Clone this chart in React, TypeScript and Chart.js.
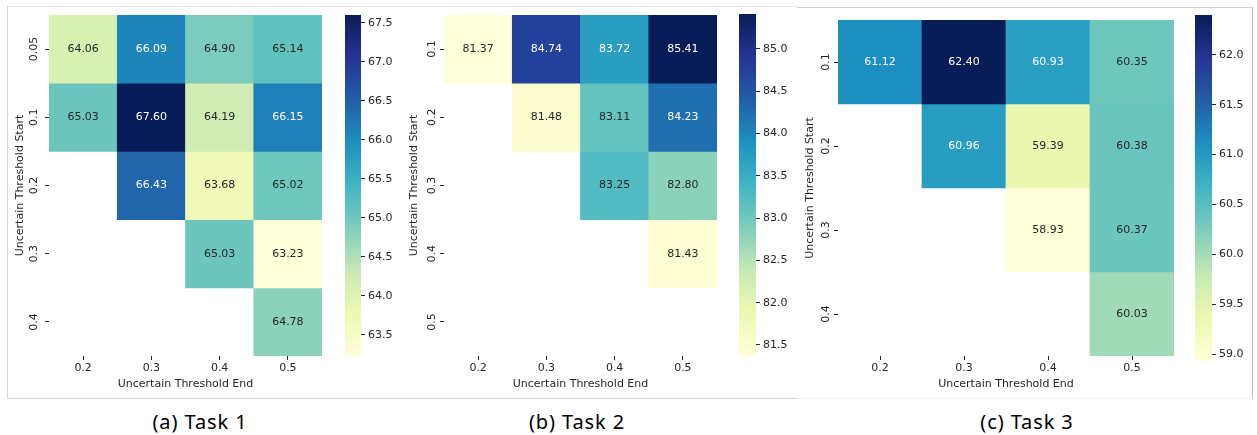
import React, { useEffect, useRef } from "react";
import { Chart, registerables } from "chart.js";
Chart.register(...registerables);

Chart.defaults.font.family = "'DejaVu Sans', sans-serif";
Chart.defaults.font.size = 11;
Chart.defaults.color = "#262626";

// ---------- data ----------
const endThresholds = ["0.2", "0.3", "0.4", "0.5"];

const task1Starts = ["0.05", "0.1", "0.2", "0.3", "0.4"];
const task1Values: (number | null)[][] = [
  [64.06, 66.09, 64.9, 65.14],
  [65.03, 67.6, 64.19, 66.15],
  [null, 66.43, 63.68, 65.02],
  [null, null, 65.03, 63.23],
  [null, null, null, 64.78],
];
const task1CbTicks = [63.5, 64.0, 64.5, 65.0, 65.5, 66.0, 66.5, 67.0, 67.5];

const task2Starts = ["0.1", "0.2", "0.3", "0.4", "0.5"];
const task2Values: (number | null)[][] = [
  [81.37, 84.74, 83.72, 85.41],
  [null, 81.48, 83.11, 84.23],
  [null, null, 83.25, 82.8],
  [null, null, null, 81.43],
  [null, null, null, null],
];
const task2CbTicks = [81.5, 82.0, 82.5, 83.0, 83.5, 84.0, 84.5, 85.0];

const task3Starts = ["0.1", "0.2", "0.3", "0.4"];
const task3Values: (number | null)[][] = [
  [61.12, 62.4, 60.93, 60.35],
  [null, 60.96, 59.39, 60.38],
  [null, null, 58.93, 60.37],
  [null, null, null, 60.03],
];
const task3CbTicks = [59.0, 59.5, 60.0, 60.5, 61.0, 61.5, 62.0];

const captions = ["(a) Task 1", "(b) Task 2", "(c) Task 3"];

// ---------- colormap (YlGnBu) ----------
const YLGNBU = [
  [255, 255, 217],
  [237, 248, 177],
  [199, 233, 180],
  [127, 205, 187],
  [65, 182, 196],
  [29, 145, 192],
  [34, 94, 168],
  [37, 52, 148],
  [8, 29, 88],
];
function cmap(t: number): number[] {
  const tt = Math.max(0, Math.min(1, t)) * (YLGNBU.length - 1);
  const i = Math.min(YLGNBU.length - 2, Math.floor(tt));
  const f = tt - i;
  const a = YLGNBU[i];
  const b = YLGNBU[i + 1];
  return [0, 1, 2].map((k) => Math.round(a[k] + (b[k] - a[k]) * f));
}
const rgb = (c: number[]) => `rgb(${c[0]},${c[1]},${c[2]})`;
function relLum(c: number[]) {
  const f = (x: number) => {
    x /= 255;
    return x <= 0.03928 ? x / 12.92 : Math.pow((x + 0.055) / 1.055, 2.4);
  };
  return 0.2126 * f(c[0]) + 0.7152 * f(c[1]) + 0.0722 * f(c[2]);
}

const TXT = "#262626";
const H = 400;
const AXW = 49;
const LH = 11 * 1.2;

type Geo = {
  hl: number; hr: number; ht: number; hb: number; ylx: number;
  cl: number; cr: number; ct: number; cbot: number;
};

function Panel({ geo, starts, values, cbTicks }: { geo: Geo; starts: string[]; values: (number | null)[][]; cbTicks: number[] }) {
  const heatRef = useRef<HTMLCanvasElement>(null);
  const cbRef = useRef<HTMLCanvasElement>(null);
  const heatLeft = geo.hl - AXW;
  const heatW = geo.hr - heatLeft + 2;
  const cbW = 64;
  const barW = geo.cr - geo.cl;

  useEffect(() => {
    const flat = values.flat().filter((v) => v != null) as number[];
    const vmin = Math.min(...flat);
    const vmax = Math.max(...flat);
    const colorOf = (v: number) => cmap((v - vmin) / (vmax - vmin));

    const annotPlugin = {
      id: "annot",
      afterDatasetsDraw(chart: any) {
        const ctx = chart.ctx;
        ctx.save();
        ctx.font = "11px 'DejaVu Sans'";
        ctx.textAlign = "center";
        ctx.textBaseline = "middle";
        chart.data.datasets.forEach((_ds: any, di: number) => {
          const meta = chart.getDatasetMeta(di);
          meta.data.forEach((el: any, i: number) => {
            const v = values[di][i];
            if (v == null) return;
            const c = colorOf(v);
            ctx.fillStyle = relLum(c) > 0.408 ? TXT : "#ffffff";
            ctx.fillText(v.toFixed(2), el.x, (el.y + el.base) / 2);
          });
        });
        ctx.restore();
      },
    };

    const heat = new Chart(heatRef.current as HTMLCanvasElement, {
      type: "bar",
      data: {
        labels: endThresholds,
        datasets: starts.map((s, ri) => ({
          label: s,
          data: values[ri].map((v) => (v == null ? null : [ri - 0.5, ri + 0.5])) as any,
          backgroundColor: values[ri].map((v) => (v == null ? "rgba(0,0,0,0)" : rgb(colorOf(v)))),
          borderWidth: 0,
          grouped: false,
          barPercentage: 1,
          categoryPercentage: 1,
        })),
      },
      options: {
        responsive: false,
        maintainAspectRatio: false,
        animation: false,
        layout: { padding: { top: geo.ht, left: 0, right: 2, bottom: 0 } },
        plugins: { legend: { display: false }, tooltip: { enabled: false } },
        scales: {
          x: {
            type: "category",
            offset: true,
            afterFit: (s: any) => { s.height = H - geo.hb; },
            ticks: { minRotation: 0, maxRotation: 0, padding: 2, color: TXT, font: { size: 11 } },
            grid: { drawOnChartArea: false, offset: false, tickLength: 4, color: TXT },
            border: { display: false },
            title: {
              display: true, text: "Uncertain Threshold End", color: TXT, font: { size: 11 },
              padding: { top: 0, bottom: H - 384 - LH / 2 },
            },
          },
          y: {
            type: "linear",
            min: -0.5,
            max: starts.length - 0.5,
            reverse: true,
            afterBuildTicks: (s: any) => { s.ticks = starts.map((_x, i) => ({ value: i })); },
            afterFit: (s: any) => { s.width = AXW; },
            ticks: {
              autoSkip: false, minRotation: 90, maxRotation: 90, crossAlign: "center", padding: -1,
              color: TXT, font: { size: 11 },
              callback: (v: any) => starts[Math.round(v)] ?? "",
            },
            grid: { drawOnChartArea: false, tickLength: 4, color: TXT },
            border: { display: false },
            title: {
              display: true, text: "Uncertain Threshold Start", color: TXT, font: { size: 11 },
              padding: { top: geo.ylx - heatLeft - LH / 2, bottom: 0 },
            },
          },
        },
      } as any,
      plugins: [annotPlugin],
    });

    const gradPlugin = {
      id: "grad",
      beforeDatasetsDraw(chart: any) {
        const { ctx, chartArea } = chart;
        const ys = chart.scales.y;
        const yTop = ys.getPixelForValue(vmax);
        const yBot = ys.getPixelForValue(vmin);
        const g = ctx.createLinearGradient(0, yBot, 0, yTop);
        YLGNBU.forEach((c, i) => g.addColorStop(i / (YLGNBU.length - 1), rgb(c)));
        ctx.save();
        ctx.fillStyle = g;
        ctx.fillRect(chartArea.left, yTop, chartArea.right - chartArea.left, yBot - yTop);
        ctx.restore();
      },
    };

    const cb = new Chart(cbRef.current as HTMLCanvasElement, {
      type: "bar",
      data: { labels: [""], datasets: [] },
      options: {
        responsive: false,
        maintainAspectRatio: false,
        animation: false,
        layout: { padding: { top: geo.ct, bottom: H - geo.cbot, left: 0, right: 0 } },
        plugins: { legend: { display: false }, tooltip: { enabled: false } },
        scales: {
          x: { display: false },
          y: {
            type: "linear",
            position: "right",
            min: vmin,
            max: vmax,
            afterBuildTicks: (s: any) => { s.ticks = cbTicks.map((v) => ({ value: v })); },
            afterFit: (s: any) => { s.width = cbW - barW; },
            ticks: { padding: 3, color: TXT, font: { size: 11 }, callback: (v: any) => Number(v).toFixed(1) },
            grid: { drawOnChartArea: false, tickLength: 4, color: TXT },
            border: { display: false },
          },
        },
      } as any,
      plugins: [gradPlugin],
    });

    return () => {
      heat.destroy();
      cb.destroy();
    };
  }, []);

  return (
    <>
      <canvas
        ref={heatRef}
        width={heatW}
        height={H}
        style={{ position: "absolute", left: heatLeft, top: 0, width: heatW, height: H, display: "block" }}
      />
      <canvas
        ref={cbRef}
        width={cbW}
        height={H}
        style={{ position: "absolute", left: geo.cl, top: 0, width: cbW, height: H, display: "block" }}
      />
    </>
  );
}

const geo1: Geo = { hl: 49, hr: 322, ht: 15, hb: 356, ylx: 20, cl: 345, cr: 361, ct: 15, cbot: 356 };
const geo2: Geo = { hl: 444, hr: 717, ht: 15, hb: 356, ylx: 414, cl: 739, cr: 756, ct: 14, cbot: 356 };
const geo3: Geo = { hl: 838, hr: 1174, ht: 20, hb: 356, ylx: 810, cl: 1195, cr: 1212, ct: 15, cbot: 361 };

export default function App() {
  const capStyle = (cx: number): React.CSSProperties => ({
    position: "absolute",
    left: cx - 100,
    width: 200,
    top: 408,
    textAlign: "center",
    fontFamily: "'Noto Sans', sans-serif",
    fontSize: 20,
    lineHeight: "28px",
    color: "#000",
    letterSpacing: "0.9px",
  });
  return (
    <div style={{ position: "fixed", left: 0, top: 0, width: 1257, height: 435, background: "#fff", overflow: "hidden" }}>
      <div style={{ position: "absolute", left: 7, top: 6, width: 790, height: 391, borderLeft: "1px solid #d4d4d4", borderTop: "1px solid #e6e6e6", borderBottom: "1px solid #d4d4d4" }} />
      <div style={{ position: "absolute", left: 797, top: 7, width: 455, height: 390, borderTop: "1px solid #cfcfcf", borderRight: "1px solid #bdbdbd", borderBottom: "1px solid #efefef" }} />
      <Panel geo={geo1} starts={task1Starts} values={task1Values} cbTicks={task1CbTicks} />
      <Panel geo={geo2} starts={task2Starts} values={task2Values} cbTicks={task2CbTicks} />
      <Panel geo={geo3} starts={task3Starts} values={task3Values} cbTicks={task3CbTicks} />
      <div style={capStyle(200)}>{captions[0]}</div>
      <div style={capStyle(577)}>{captions[1]}</div>
      <div style={capStyle(1027)}>{captions[2]}</div>
    </div>
  );
}
